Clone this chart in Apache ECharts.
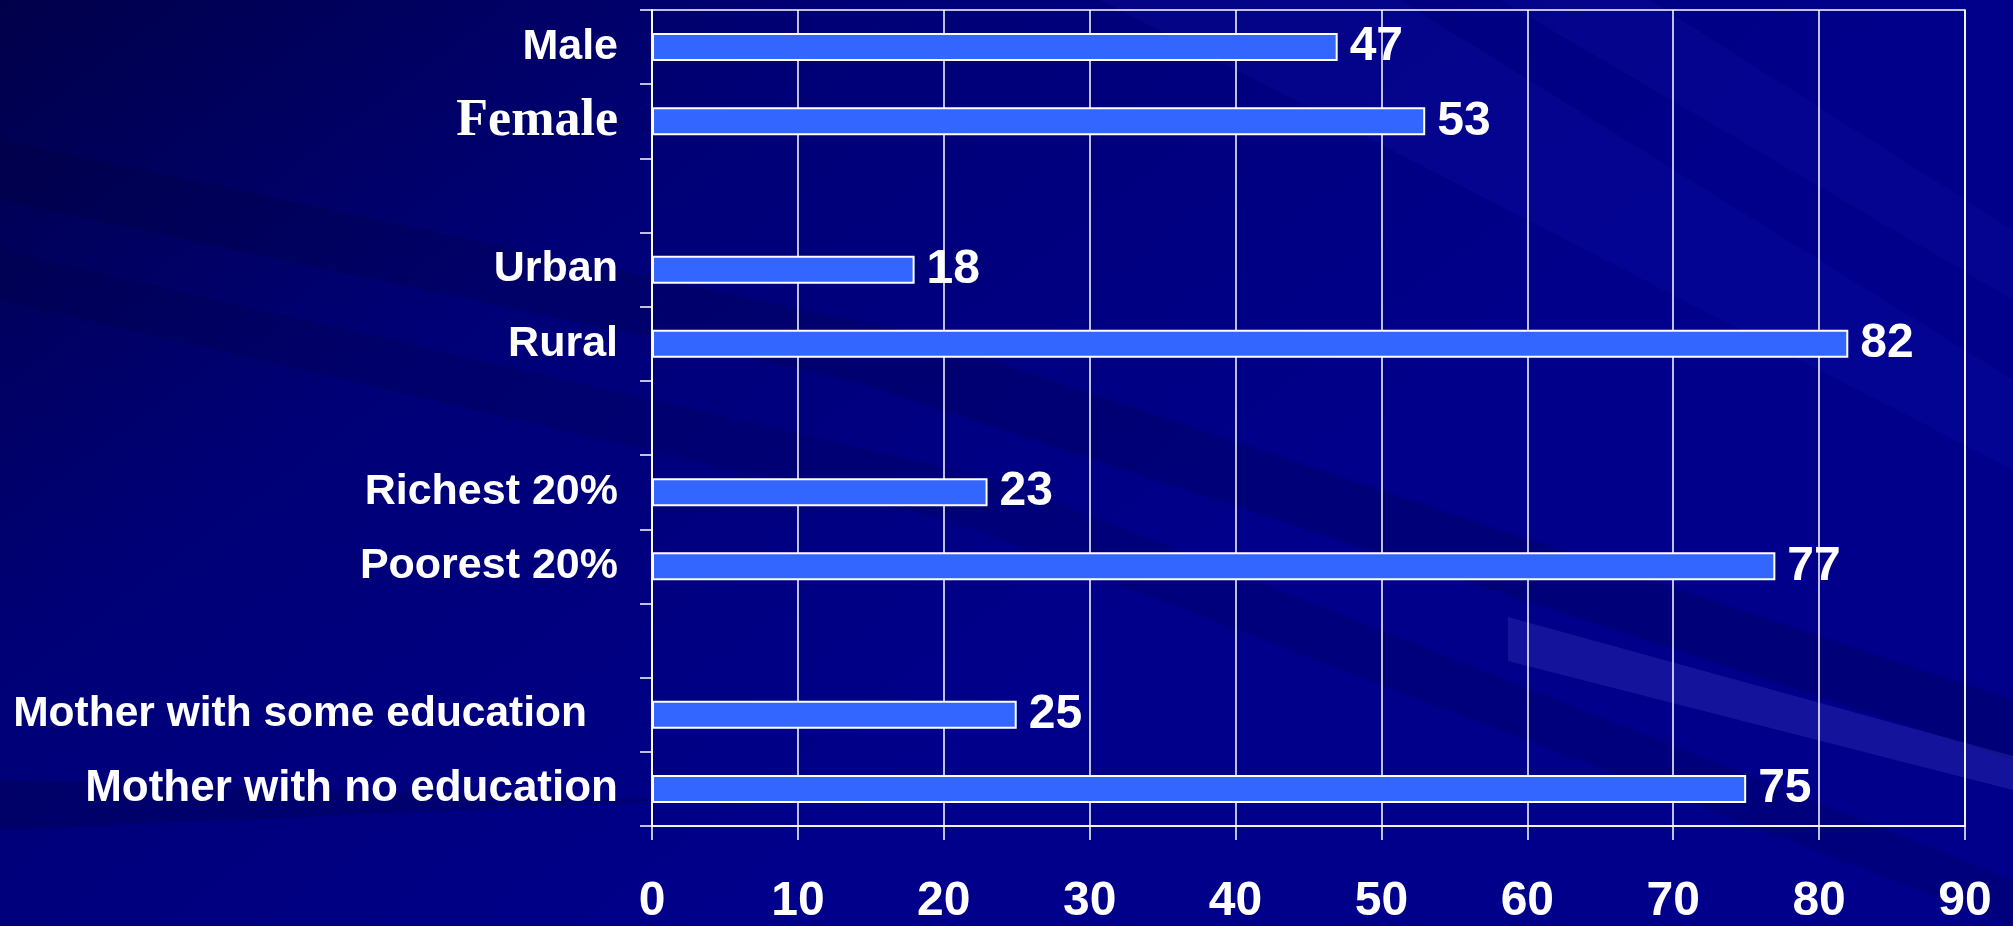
<!DOCTYPE html>
<html>
<head>
<meta charset="utf-8">
<style>
html,body{margin:0;padding:0;width:2013px;height:926px;overflow:hidden;background:#000070;}
#chart{width:2013px;height:926px;}
</style>
<script src="https://cdn.jsdelivr.net/npm/echarts@6/dist/echarts.min.js"></script>
</head>
<body>
<div id="chart"></div>
<script>
// Categories top to bottom (gaps are empty bands)
const categories = ['Male', 'Female', 'gap1', 'Urban', 'Rural', 'gap2', 'Richest 20%', 'Poorest 20%', 'gap3', 'Mother with some education', 'Mother with no education'];
const values = [47, 53, null, 18, 82, null, 23, 77, null, 25, 75];
const xTicks = [0, 10, 20, 30, 40, 50, 60, 70, 80, 90];

const chart = echarts.init(document.getElementById('chart'), null, {renderer: 'canvas'});

const sans = 'Liberation Sans, Arial, sans-serif';
const serif = 'Liberation Serif, Times New Roman, serif';

const option = {
  backgroundColor: {
    type: 'linear', x: 0, y: 0, x2: 0.35, y2: 1,
    colorStops: [
      {offset: 0, color: '#00004a'},
      {offset: 0.45, color: '#000076'},
      {offset: 1, color: '#00008a'}
    ]
  },
  graphic: [
    {type: 'polygon', silent: true, z: -10, shape: {points: [[0,140],[900,330],[2013,700],[2013,760],[850,380],[0,200]]}, style: {fill: 'rgba(0,0,40,0.16)'}},
    {type: 'polygon', silent: true, z: -10, shape: {points: [[0,250],[1000,480],[2013,880],[2013,926],[950,520],[0,300]]}, style: {fill: 'rgba(0,0,40,0.14)'}},
    {type: 'polygon', silent: true, z: -10, shape: {points: [[1100,0],[1400,0],[2013,380],[2013,470]]}, style: {fill: 'rgba(30,30,200,0.14)'}},
    {type: 'polygon', silent: true, z: -10, shape: {points: [[1500,0],[1650,0],[2013,230],[2013,300]]}, style: {fill: 'rgba(30,30,200,0.12)'}},
    {type: 'polygon', silent: true, z: -10, shape: {points: [[0,780],[700,800],[0,830]]}, style: {fill: 'rgba(0,0,40,0.2)'}},
    {type: 'polygon', silent: true, z: -10, shape: {points: [[1508,617],[2013,756],[2013,790],[1508,661]]}, style: {fill: 'rgba(120,120,255,0.16)'}}
  ],
  grid: {
    left: 652, right: 48, top: 10, bottom: 98,
    show: true, borderColor: '#ffffff', borderWidth: 1.5,
    containLabel: false
  },
  xAxis: {
    type: 'value', min: 0, max: 90, interval: 10,
    axisLine: {show: true, lineStyle: {color: '#ffffff', width: 1.5}},
    axisTick: {show: true, length: 14, lineStyle: {color: '#ffffff', width: 1.5}},
    splitLine: {show: true, lineStyle: {color: '#ffffff', width: 1.5}},
    axisLabel: {
      color: '#ffffff', fontFamily: sans, fontWeight: 'bold', fontSize: 48, margin: 52,
      formatter: v => xTicks.indexOf(v) >= 0 ? String(v) : ''
    }
  },
  yAxis: {
    type: 'category', inverse: true, data: categories,
    axisLine: {show: true, lineStyle: {color: '#ffffff', width: 1.5}},
    axisTick: {show: true, length: 12, lineStyle: {color: '#ffffff', width: 1.5}},
    splitLine: {show: false},
    axisLabel: {
      interval: 0, margin: 34, color: '#ffffff', fontFamily: sans, fontWeight: 'bold', fontSize: 43,
      formatter: v => {
        if (v.indexOf('gap') === 0) return '';
        if (v === 'Female') return '{serif|' + v + '}';
        if (v === 'Mother with some education') return '{pad|' + v + '}';
        if (v === 'Mother with no education') return '{big|' + v + '}';
        return v;
      },
      rich: {
        serif: {fontFamily: serif, fontWeight: 'bold', fontSize: 52, color: '#ffffff'},
        pad: {fontFamily: sans, fontWeight: 'bold', fontSize: 42.5, color: '#ffffff', padding: [0, 31, 0, 0]},
        big: {fontFamily: sans, fontWeight: 'bold', fontSize: 44, color: '#ffffff'}
      }
    }
  },
  series: [{
    type: 'bar',
    data: values,
    barWidth: 28,
    itemStyle: {color: '#3366ff', borderColor: '#ffffff', borderWidth: 2},
    label: {
      show: true, position: 'right', distance: 12,
      color: '#ffffff', fontFamily: sans, fontWeight: 'bold', fontSize: 48
    },
    animation: false
  }],
  animation: false
};
chart.setOption(option);
</script>
</body>
</html>
